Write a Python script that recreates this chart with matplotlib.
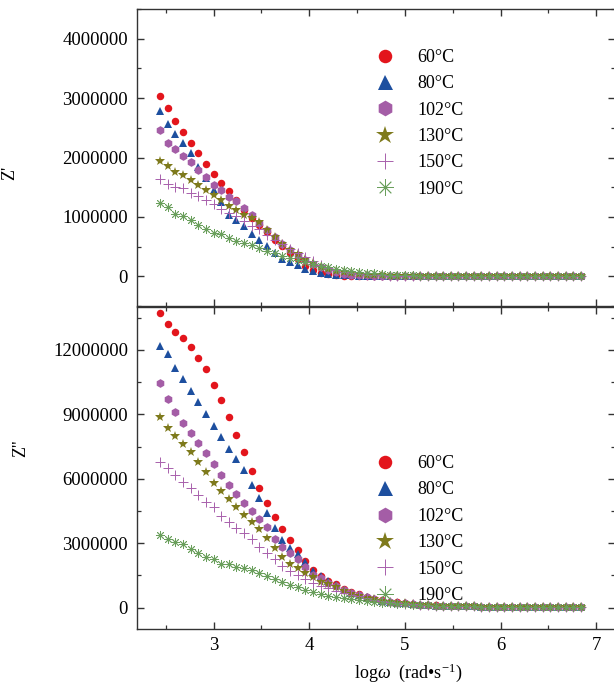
import matplotlib
matplotlib.use("Agg")
import matplotlib.pyplot as plt
from matplotlib.ticker import MultipleLocator, ScalarFormatter
import numpy as np

plt.rcParams["font.family"] = ["Liberation Serif", "DejaVu Serif"]
plt.rcParams["mathtext.fontset"] = "custom"
plt.rcParams["mathtext.rm"] = "Liberation Serif"
plt.rcParams["mathtext.it"] = "Liberation Serif:italic"
plt.rcParams["mathtext.bf"] = "Liberation Serif:bold"

# log10 of angular frequency (rad/s)
log_omega = [2.44, 2.52, 2.60, 2.68, 2.76, 2.84, 2.92, 3.00, 3.08, 3.16,
             3.24, 3.32, 3.40, 3.48, 3.56, 3.64, 3.72, 3.80, 3.88, 3.96,
             4.04, 4.12, 4.20, 4.28, 4.36, 4.44, 4.52, 4.60, 4.68, 4.76,
             4.84, 4.92, 5.00, 5.08, 5.16, 5.24, 5.32, 5.40, 5.48, 5.56,
             5.64, 5.72, 5.80, 5.88, 5.96, 6.04, 6.12, 6.20, 6.28, 6.36,
             6.44, 6.52, 6.60, 6.68, 6.76, 6.84]

temperatures = ["60°C", "80°C", "102°C", "130°C", "150°C", "190°C"]

# Real part Z' (MOhm)
zr_60 = [3.03, 2.84, 2.61, 2.43, 2.24, 2.07, 1.89, 1.72, 1.57, 1.44,
         1.28, 1.12, 0.98, 0.86, 0.74, 0.62, 0.51, 0.40, 0.29, 0.18,
         0.11, 0.06, 0.035, 0.02, 0.012, 0.009, 0.007, 0.006, 0.005, 0.005,
         0.004, 0.004, 0.004, 0.003, 0.003, 0.003, 0.003, 0.003, 0.003, 0.002,
         0.002, 0.002, 0.002, 0.002, 0.002, 0.002, 0.002, 0.002, 0.002, 0.002,
         0.002, 0.002, 0.002, 0.002, 0.002, 0.002]
zr_80 = [2.78, 2.57, 2.39, 2.25, 2.07, 1.84, 1.65, 1.46, 1.25, 1.03,
         0.95, 0.84, 0.72, 0.61, 0.51, 0.40, 0.30, 0.24, 0.19, 0.12,
         0.09, 0.06, 0.04, 0.028, 0.02, 0.015, 0.011, 0.009, 0.007, 0.006,
         0.005, 0.005, 0.004, 0.004, 0.004, 0.003, 0.003, 0.003, 0.003, 0.003,
         0.003, 0.003, 0.003, 0.003, 0.003, 0.003, 0.003, 0.003, 0.003, 0.003,
         0.003, 0.003, 0.003, 0.003, 0.003, 0.003]
zr_102 = [2.46, 2.25, 2.14, 2.03, 1.92, 1.79, 1.67, 1.54, 1.46, 1.34,
          1.26, 1.15, 1.04, 0.90, 0.78, 0.66, 0.55, 0.45, 0.36, 0.28,
          0.21, 0.15, 0.105, 0.07, 0.045, 0.03, 0.02, 0.015, 0.011, 0.009,
          0.007, 0.006, 0.005, 0.005, 0.004, 0.004, 0.004, 0.004, 0.004, 0.003,
          0.003, 0.003, 0.003, 0.003, 0.003, 0.003, 0.003, 0.003, 0.003, 0.003,
          0.003, 0.003, 0.003, 0.003, 0.003, 0.003]
zr_130 = [1.95, 1.86, 1.76, 1.70, 1.62, 1.54, 1.46, 1.37, 1.29, 1.19,
          1.12, 1.04, 0.98, 0.91, 0.78, 0.67, 0.55, 0.45, 0.38, 0.30,
          0.23, 0.165, 0.125, 0.09, 0.07, 0.05, 0.04, 0.03, 0.022, 0.017,
          0.013, 0.01, 0.008, 0.007, 0.006, 0.005, 0.005, 0.004, 0.004, 0.004,
          0.003, 0.003, 0.003, 0.003, 0.003, 0.003, 0.003, 0.003, 0.003, 0.003,
          0.003, 0.003, 0.003, 0.003, 0.003, 0.003]
zr_150 = [1.64, 1.56, 1.51, 1.48, 1.41, 1.36, 1.29, 1.22, 1.13, 1.07,
          1.01, 0.93, 0.85, 0.79, 0.70, 0.62, 0.54, 0.46, 0.39, 0.32,
          0.25, 0.19, 0.14, 0.10, 0.075, 0.055, 0.04, 0.03, 0.022, 0.017,
          0.013, 0.01, 0.008, 0.007, 0.006, 0.005, 0.005, 0.004, 0.004, 0.004,
          0.003, 0.003, 0.003, 0.003, 0.003, 0.003, 0.003, 0.003, 0.003, 0.003,
          0.003, 0.003, 0.003, 0.003, 0.003, 0.003]
zr_190 = [1.24, 1.16, 1.05, 1.02, 0.94, 0.87, 0.79, 0.73, 0.72, 0.64,
          0.59, 0.56, 0.535, 0.48, 0.42, 0.385, 0.34, 0.31, 0.27, 0.24,
          0.21, 0.18, 0.16, 0.13, 0.11, 0.09, 0.075, 0.06, 0.048, 0.038,
          0.03, 0.024, 0.019, 0.015, 0.012, 0.01, 0.009, 0.008, 0.007, 0.006,
          0.006, 0.005, 0.005, 0.005, 0.004, 0.004, 0.004, 0.004, 0.004, 0.004,
          0.004, 0.004, 0.004, 0.004, 0.004, 0.004]

# Imaginary part Z'' (MOhm)
zi_60 = [13.73, 13.20, 12.85, 12.54, 12.15, 11.63, 11.12, 10.35, 9.66, 8.87,
         8.03, 7.23, 6.34, 5.55, 4.85, 4.20, 3.65, 3.14, 2.66, 2.15,
         1.75, 1.47, 1.25, 1.09, 0.85, 0.71, 0.61, 0.50, 0.40, 0.33,
         0.28, 0.24, 0.20, 0.16, 0.13, 0.11, 0.095, 0.08, 0.07, 0.06,
         0.055, 0.05, 0.045, 0.04, 0.037, 0.034, 0.031, 0.028, 0.026, 0.024,
         0.022, 0.02, 0.019, 0.018, 0.017, 0.016]
zi_80 = [12.19, 11.79, 11.17, 10.64, 10.10, 9.59, 9.00, 8.47, 7.93, 7.38,
         6.90, 6.40, 5.71, 5.09, 4.42, 3.69, 3.14, 2.76, 2.48, 2.11,
         1.70, 1.45, 1.22, 1.05, 0.83, 0.69, 0.59, 0.49, 0.39, 0.32,
         0.27, 0.23, 0.19, 0.155, 0.125, 0.105, 0.09, 0.078, 0.068, 0.06,
         0.054, 0.048, 0.043, 0.039, 0.036, 0.033, 0.03, 0.027, 0.025, 0.023,
         0.021, 0.02, 0.019, 0.018, 0.017, 0.016]
zi_102 = [10.47, 9.70, 9.12, 8.61, 8.14, 7.65, 7.18, 6.67, 6.17, 5.71,
          5.29, 4.88, 4.51, 4.11, 3.76, 3.20, 2.83, 2.52, 2.25, 1.90,
          1.51, 1.36, 1.13, 0.98, 0.80, 0.67, 0.57, 0.48, 0.39, 0.32,
          0.27, 0.23, 0.19, 0.155, 0.125, 0.105, 0.09, 0.078, 0.068, 0.06,
          0.054, 0.048, 0.043, 0.039, 0.036, 0.033, 0.03, 0.027, 0.025, 0.023,
          0.021, 0.02, 0.019, 0.018, 0.017, 0.016]
zi_130 = [8.86, 8.35, 7.99, 7.60, 7.23, 6.79, 6.30, 5.78, 5.43, 5.05,
          4.69, 4.31, 4.00, 3.64, 3.22, 2.76, 2.37, 2.04, 1.83, 1.62,
          1.41, 1.20, 1.08, 0.94, 0.78, 0.65, 0.55, 0.46, 0.38, 0.32,
          0.27, 0.23, 0.19, 0.155, 0.125, 0.105, 0.09, 0.078, 0.068, 0.06,
          0.054, 0.048, 0.043, 0.039, 0.036, 0.033, 0.03, 0.027, 0.025, 0.023,
          0.021, 0.02, 0.019, 0.018, 0.017, 0.016]
zi_150 = [6.79, 6.48, 6.17, 5.86, 5.55, 5.24, 4.93, 4.67, 4.28, 3.97,
          3.69, 3.46, 3.18, 2.83, 2.52, 2.26, 1.95, 1.71, 1.51, 1.33,
          1.16, 1.02, 0.90, 0.79, 0.69, 0.60, 0.52, 0.44, 0.37, 0.31,
          0.26, 0.22, 0.185, 0.15, 0.125, 0.105, 0.09, 0.078, 0.068, 0.06,
          0.054, 0.048, 0.043, 0.039, 0.036, 0.033, 0.03, 0.027, 0.025, 0.023,
          0.021, 0.02, 0.019, 0.018, 0.017, 0.016]
zi_190 = [3.38, 3.18, 3.04, 2.94, 2.71, 2.55, 2.34, 2.26, 2.04, 2.01,
          1.90, 1.85, 1.75, 1.59, 1.47, 1.31, 1.20, 1.05, 0.94, 0.82,
          0.71, 0.63, 0.55, 0.50, 0.44, 0.38, 0.33, 0.29, 0.25, 0.22,
          0.19, 0.17, 0.15, 0.13, 0.115, 0.10, 0.09, 0.08, 0.07, 0.062,
          0.056, 0.05, 0.045, 0.041, 0.037, 0.034, 0.031, 0.028, 0.026, 0.024,
          0.022, 0.02, 0.019, 0.018, 0.017, 0.016]

MOHM = 1e6

styles = [
    dict(marker="o", color="#E3151C", ms=5.4, mew=0),
    dict(marker="^", color="#1D4F9F", ms=6.0, mew=0),
    dict(marker="h", color="#A45DA6", ms=6.3, mew=0),
    dict(marker="*", color="#7E7A1C", ms=7.5, mew=0),
    dict(marker="+", color="#A860AC", ms=6.5, mew=0.7),
    dict(marker=(8, 2, 0), color="#6A9F5C", ms=6.5, mew=0.6),
]

fig = plt.figure(figsize=(6.14, 6.86), dpi=100)
ax_top = fig.add_axes([0.2231, 0.5539, 0.7792, 0.4329])
ax_bot = fig.add_axes([0.2231, 0.0831, 0.7792, 0.4694])

top_series = [zr_60, zr_80, zr_102, zr_130, zr_150, zr_190]
bot_series = [zi_60, zi_80, zi_102, zi_130, zi_150, zi_190]

x = np.array(log_omega)
for ax, series in ((ax_top, top_series), (ax_bot, bot_series)):
    for label, vals, st in zip(temperatures, series, styles):
        ax.plot(x, np.array(vals) * MOHM, linestyle="none",
                marker=st["marker"], color=st["color"],
                markersize=st["ms"], markeredgewidth=st["mew"],
                markeredgecolor=st["color"], label=label)

spine_color = "#333333"
for ax in (ax_top, ax_bot):
    ax.set_xlim(2.2, 7.2)
    ax.xaxis.set_major_locator(MultipleLocator(1))
    ax.xaxis.set_minor_locator(MultipleLocator(0.5))
    for s in ax.spines.values():
        s.set_color(spine_color)
        s.set_linewidth(1.0)
    ax.tick_params(which="both", direction="in", top=True, right=True,
                   colors=spine_color, labelcolor="black", labelsize=13.5)
    ax.tick_params(which="major", length=5, width=1.0)
    ax.tick_params(which="minor", length=3, width=0.9)
    ax.tick_params(axis="y", pad=6.5)
    ax.tick_params(axis="x", pad=5.5)
    fmt = ScalarFormatter(useOffset=False)
    fmt.set_scientific(False)
    ax.yaxis.set_major_formatter(fmt)
    ax.legend(loc="upper left",
              bbox_to_anchor=(0.50, 0.866 if ax is ax_top else 0.540),
              frameon=False, fontsize=13, markerscale=1.8, handlelength=1.0,
              handletextpad=1.3, labelspacing=0.52, borderpad=0, borderaxespad=0)

ax_top.set_ylim(-0.5e6, 4.5e6)
ax_top.yaxis.set_major_locator(MultipleLocator(1e6))
ax_top.yaxis.set_minor_locator(MultipleLocator(0.5e6))
ax_top.tick_params(axis="x", labelbottom=False)

ax_bot.set_ylim(-1e6, 14e6)
ax_bot.yaxis.set_major_locator(MultipleLocator(3e6))
ax_bot.yaxis.set_minor_locator(MultipleLocator(1.5e6))

ax_top.set_ylabel("Z'", fontsize=13)
ax_top.yaxis.set_label_coords(-0.249, 0.45)
ax_bot.set_ylabel("Z''", fontsize=13)
ax_bot.yaxis.set_label_coords(-0.226, 0.56)

ax_bot.set_xlabel(r"log$\mathit{\omega}$  (rad•s$^{-1}$)", fontsize=13)
ax_bot.xaxis.set_label_coords(0.566, -0.10)

fig.savefig("out.png", dpi=100, facecolor="white")
